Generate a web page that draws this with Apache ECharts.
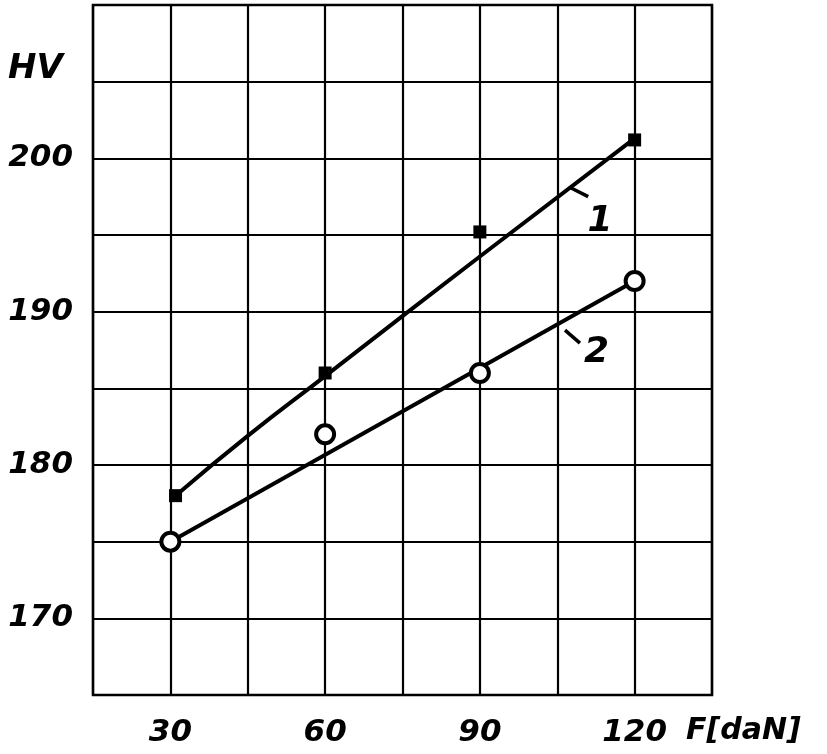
<!DOCTYPE html>
<html><head><meta charset="utf-8">
<script src="https://cdn.jsdelivr.net/npm/echarts@6/dist/echarts.min.js"></script>
<style>html,body{margin:0;padding:0;background:#fff}#c{width:827px;height:754px}</style>
</head><body><div id="c"></div>
<script>
// Data
const xTicks = [30, 60, 90, 120];
const yTicks = [170, 180, 190, 200];
const pts1 = [[31, 178], [60, 186], [90, 195.2], [120, 201.2]];   // squares, curve 1
const fit1 = [[31, 178], [45, 181.9], [60, 185.8], [90, 193.6], [120, 201.3]];
const pts2 = [[30, 175], [60, 182], [90, 186], [120, 192]];       // circles, curve 2
const fit2 = [[30, 175], [120, 192]];
const tick1 = [[107.5, 198.1], [111, 197.5]];
const tick2 = [[106.5, 188.8], [109.4, 187.95]];
const lab1 = [[113.3, 195.9, '1']];
const lab2 = [[112.6, 187.3, '2']];

const FONT = 'DejaVu Sans';
const chart = echarts.init(document.getElementById('c'));
const lineS = (d, w) => ({type: 'line', data: d, symbol: 'none', smooth: false,
  lineStyle: {color: '#000', width: w, opacity: 1}, z: 3, silent: true});
chart.setOption({
  animation: false,
  backgroundColor: '#fff',
  grid: {left: 93, right: 115, top: 5, bottom: 59, show: true, borderColor: '#000', borderWidth: 2.5},
  xAxis: {
    type: 'value', min: 15, max: 135, interval: 15,
    axisLine: {show: false}, axisTick: {show: false},
    splitLine: {show: true, lineStyle: {color: '#000', width: 2.2}},
    axisLabel: {margin: 22, color: '#000', fontFamily: FONT, fontStyle: 'italic', fontWeight: 'bold', fontSize: 31,
      formatter: v => xTicks.includes(v) ? String(v) : ''}
  },
  yAxis: {
    type: 'value', min: 165, max: 210, interval: 5,
    axisLine: {show: false}, axisTick: {show: false},
    splitLine: {show: true, lineStyle: {color: '#000', width: 2.2}},
    axisLabel: {margin: 20, color: '#000', fontFamily: FONT, fontStyle: 'italic', fontWeight: 'bold', fontSize: 31,
      formatter: v => yTicks.includes(v) ? String(v) : ''}
  },
  graphic: [
    {type: 'text', left: 8, top: 52, style: {text: 'HV', fill: '#000', font: 'italic bold 34px "DejaVu Sans"'}},
    {type: 'text', left: 686, top: 716, style: {text: 'F[daN]', fill: '#000', font: 'italic bold 30px "DejaVu Sans"'}}
  ],
  series: [
    Object.assign(lineS(fit1, 4), {smooth: 0.5}),
    lineS(fit2, 4),
    lineS(tick1, 3.5),
    lineS(tick2, 3.5),
    {type: 'scatter', data: pts1, symbol: 'rect', symbolSize: 13, itemStyle: {color: '#000', opacity: 1}, z: 5},
    {type: 'scatter', data: pts2, symbol: 'circle', symbolSize: 18,
      itemStyle: {color: '#fff', borderColor: '#000', borderWidth: 4, opacity: 1}, z: 5},
    {type: 'scatter', data: lab1.concat(lab2), symbolSize: 0, z: 6, itemStyle: {opacity: 1},
      label: {show: true, position: 'inside', formatter: p => p.data[2], color: '#000',
        fontFamily: FONT, fontStyle: 'italic', fontWeight: 'bold', fontSize: 36}}
  ]
});
</script></body></html>
